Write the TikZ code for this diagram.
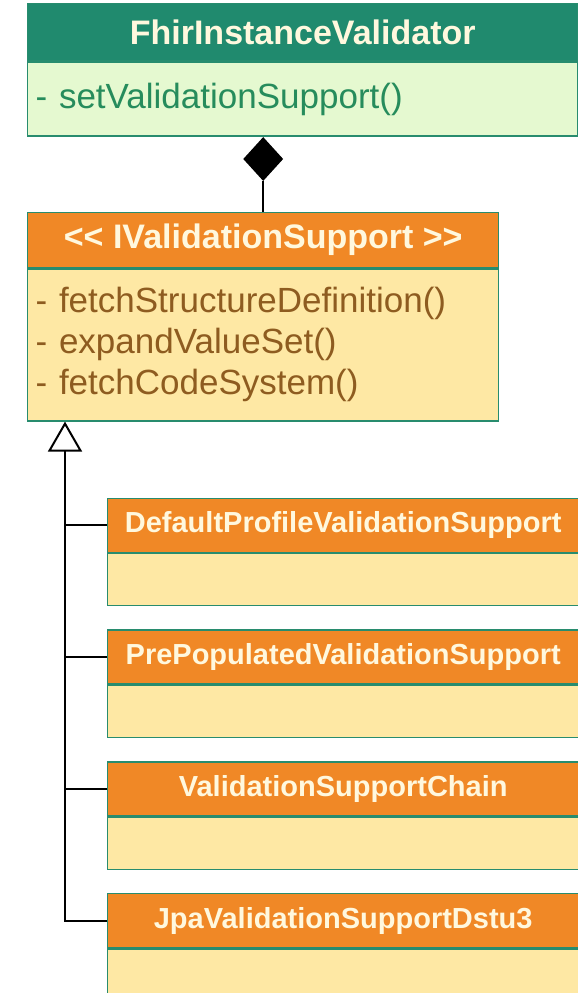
\documentclass[tikz,border=0pt]{standalone}
\usepackage{fontspec}
\setmainfont{Liberation Sans}
\usetikzlibrary{arrows.meta, positioning, shapes.geometric}

\definecolor{tealhead}{RGB}{32,138,110}
\definecolor{tealbody}{RGB}{229,249,208}
\definecolor{tealtext}{RGB}{38,140,92}
\definecolor{orangehead}{RGB}{240,136,38}
\definecolor{orangebody}{RGB}{254,232,164}
\definecolor{browntext}{RGB}{142,92,32}
\definecolor{headtext}{RGB}{255,248,222}
\definecolor{edgeline}{RGB}{40,140,110}

\begin{document}
\begin{tikzpicture}[
    x=1pt, y=1pt,
    node distance=23pt,
    uhead/.style   = {rectangle, draw=edgeline, line width=1.4pt, inner sep=0pt,
                      align=center, text=headtext},
    vhead/.style   = {uhead, fill=tealhead, minimum width=550pt, minimum height=57pt,
                      font=\bfseries\fontsize{34}{40}\selectfont},
    vbody/.style   = {rectangle, draw=edgeline, line width=1.4pt, fill=tealbody,
                      text=tealtext, text width=534pt, inner xsep=8pt, inner ysep=0pt,
                      minimum height=74pt, align=left,
                      font=\fontsize{35}{41}\selectfont},
    ihead/.style   = {uhead, fill=orangehead, minimum width=471pt, minimum height=55pt,
                      font=\bfseries\fontsize{34}{40}\selectfont},
    ibody/.style   = {vbody, fill=orangebody, text=browntext, text width=455pt,
                      minimum height=152pt},
    chead/.style   = {ihead, minimum height=54pt,
                      font=\bfseries\fontsize{29}{34}\selectfont},
    cbody/.style   = {ibody, minimum height=52pt},
    comp/.style    = {diamond, fill=black, inner sep=0pt,
                      minimum width=40pt, minimum height=44pt},
    link/.style    = {line width=2pt},
    inherit/.style = {link, -{Triangle[open, length=30pt, width=34pt]}}
]
\useasboundingbox (0,0) rectangle (578,-993);

% ========= validator =========
\node[vhead, anchor=north west] (validhead) at (27,-3) {FhirInstanceValidator};
\node[vbody, below=0pt of validhead] (validbody) {- setValidationSupport()};

% ========= interface =========
\node[ihead, below right=75pt and 0pt of validbody.south west] (ifacehead)
    {<\kern0pt< IValidationSupport >\kern0pt>};
\node[ibody, below=0pt of ifacehead] (ifacebody)
    {- fetchStructureDefinition()\\- expandValueSet()\\- fetchCodeSystem()};

\node[comp, anchor=north] (diam) at (validbody.south -| ifacehead.north) {};
\draw[link] (diam) -- (ifacehead);

% ========= implementations =========
\node[chead, below right=76pt and 80pt of ifacebody.south west] (defhead)
    {DefaultProfileValidationSupport};
\node[cbody, below=0pt of defhead] (defbody) {};
\node[chead, below=of defbody] (prehead) {PrePopulatedValidationSupport};
\node[cbody, below=0pt of prehead] (prebody) {};
\node[chead, below=of prebody] (chainhead) {ValidationSupportChain};
\node[cbody, below=0pt of chainhead] (chainbody) {};
\node[chead, below=of chainbody] (jpahead) {JpaValidationSupportDstu3};
\node[cbody, below=0pt of jpahead] (jpabody) {};

% ========= inheritance =========
\coordinate (trunk) at ([xshift=38pt]ifacebody.south west);
\draw[inherit] (jpahead.west) -| (trunk);
\foreach \n in {defhead, prehead, chainhead}
    \draw[link] (\n.west) -- (\n.west -| trunk);

\end{tikzpicture}
\end{document}
